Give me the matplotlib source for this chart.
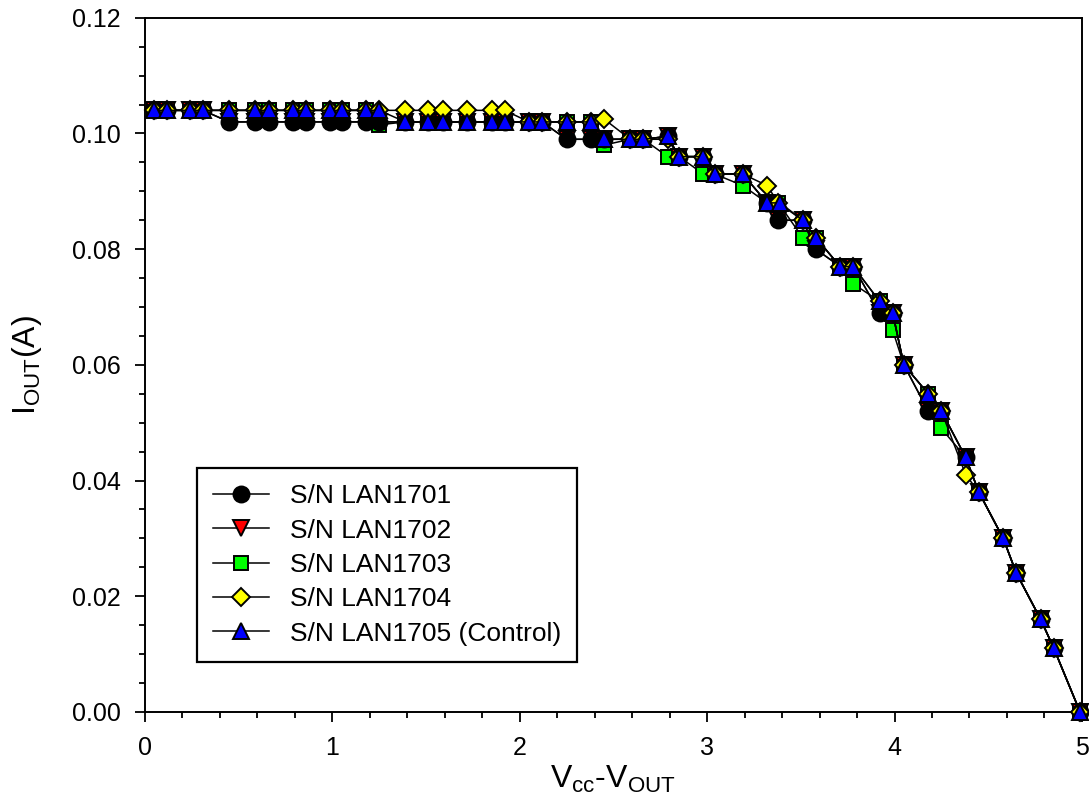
import matplotlib
matplotlib.use('Agg')
import matplotlib.pyplot as plt
from matplotlib.ticker import MultipleLocator, FormatStrFormatter

plt.rcParams['font.family'] = ['Liberation Sans', 'DejaVu Sans']
plt.rcParams['mathtext.fontset'] = 'custom'
plt.rcParams['mathtext.rm'] = 'Liberation Sans'
plt.rcParams['mathtext.it'] = 'Liberation Sans'

# Vcc - Vout (V) for each unit
x_1701 = [0.05, 0.12, 0.24, 0.31, 0.45, 0.59, 0.66, 0.79, 0.86, 0.99, 1.05, 1.18, 1.25,
          1.39, 1.51, 1.59, 1.72, 1.85, 1.92, 2.05, 2.12, 2.25, 2.38, 2.45, 2.59, 2.66,
          2.79, 2.85, 2.98, 3.04, 3.19, 3.32, 3.38, 3.51, 3.58, 3.71, 3.78, 3.92, 3.99,
          4.05, 4.18, 4.25, 4.38, 4.45, 4.58, 4.65, 4.78, 4.85, 4.99]
x_1702 = x_1701
x_1703 = x_1701
x_1704 = x_1701
x_1705 = [0.05, 0.12, 0.24, 0.31, 0.45, 0.59, 0.66, 0.79, 0.86, 0.99, 1.05, 1.18, 1.25,
          1.39, 1.51, 1.59, 1.72, 1.85, 1.92, 2.05, 2.12, 2.25, 2.38, 2.45, 2.59, 2.66,
          2.79, 2.85, 2.98, 3.04, 3.19, 3.32, 3.39, 3.51, 3.58, 3.71, 3.78, 3.92, 3.99,
          4.05, 4.18, 4.25, 4.38, 4.45, 4.58, 4.65, 4.78, 4.85, 4.99]

# Iout (A)
i_1701 = [0.104, 0.104, 0.104, 0.104, 0.102, 0.102, 0.102, 0.102, 0.102, 0.102, 0.102, 0.102, 0.102,
          0.102, 0.102, 0.102, 0.102, 0.102, 0.102, 0.102, 0.102, 0.099, 0.099, 0.099, 0.099, 0.099,
          0.0995, 0.096, 0.096, 0.093, 0.093, 0.088, 0.085, 0.085, 0.080, 0.077, 0.077, 0.069, 0.069,
          0.060, 0.052, 0.052, 0.044, 0.038, 0.030, 0.024, 0.016, 0.011, 0.000]
i_1702 = i_1701
i_1703 = [0.104, 0.104, 0.104, 0.104, 0.104, 0.104, 0.104, 0.104, 0.104, 0.104, 0.104, 0.104, 0.1015,
          0.102, 0.102, 0.102, 0.102, 0.102, 0.102, 0.102, 0.102, 0.102, 0.102, 0.098, 0.099, 0.099,
          0.096, 0.096, 0.093, 0.093, 0.091, 0.088, 0.088, 0.082, 0.082, 0.077, 0.074, 0.071, 0.066,
          0.060, 0.055, 0.049, 0.044, 0.038, 0.030, 0.024, 0.016, 0.011, 0.000]
i_1704 = [0.104, 0.104, 0.104, 0.104, 0.104, 0.104, 0.104, 0.104, 0.104, 0.104, 0.104, 0.104, 0.104,
          0.104, 0.104, 0.104, 0.104, 0.104, 0.104, 0.102, 0.102, 0.102, 0.102, 0.1025, 0.099, 0.099,
          0.099, 0.096, 0.096, 0.093, 0.093, 0.091, 0.088, 0.085, 0.082, 0.077, 0.077, 0.071, 0.069,
          0.060, 0.055, 0.052, 0.041, 0.038, 0.030, 0.024, 0.016, 0.011, 0.000]
i_1705 = [0.104, 0.104, 0.104, 0.104, 0.104, 0.104, 0.104, 0.104, 0.104, 0.104, 0.104, 0.104, 0.104,
          0.102, 0.102, 0.102, 0.102, 0.102, 0.102, 0.102, 0.102, 0.102, 0.102, 0.099, 0.099, 0.099,
          0.0995, 0.096, 0.096, 0.093, 0.093, 0.088, 0.088, 0.085, 0.082, 0.077, 0.077, 0.071, 0.069,
          0.060, 0.055, 0.052, 0.044, 0.038, 0.030, 0.024, 0.016, 0.011, 0.000]

labels = ['S/N LAN1701', 'S/N LAN1702', 'S/N LAN1703', 'S/N LAN1704', 'S/N LAN1705 (Control)']
markers = ['o', 'v', 's', 'D', '^']
colors = ['black', 'red', '#00ff00', 'yellow', 'blue']
msizes = [11.5, 11.5, 10.5, 9.5, 11.5]
zorders = [3, 2, 1, 5, 6]

xs = [x_1701, x_1702, x_1703, x_1704, x_1705]
ys = [i_1701, i_1702, i_1703, i_1704, i_1705]

fig = plt.figure(figsize=(10.89, 8.09), dpi=100)
ax = fig.add_axes([0.133, 0.12, 0.8605, 0.858])

for x, y, lab, m, c, ms, z in zip(xs, ys, labels, markers, colors, msizes, zorders):
    ax.plot(x, y, color='black', lw=1.1, marker=m, markersize=ms,
            markerfacecolor=c, markeredgecolor='black', markeredgewidth=1.4,
            label=lab, zorder=z, clip_on=False)

ax.set_xlim(0, 5)
ax.set_ylim(0, 0.12)
ax.xaxis.set_major_locator(MultipleLocator(1))
ax.xaxis.set_minor_locator(MultipleLocator(0.2))
ax.yaxis.set_major_locator(MultipleLocator(0.02))
ax.yaxis.set_minor_locator(MultipleLocator(0.005))
ax.yaxis.set_major_formatter(FormatStrFormatter('%.2f'))
ax.tick_params(which='major', direction='out', length=7.5, width=1.3, labelsize=18)
ax.tick_params(axis='x', which='major', pad=10)
ax.tick_params(axis='y', which='major', pad=10)
ax.tick_params(which='minor', direction='out', length=4, width=1.3)
for s in ax.spines.values():
    s.set_linewidth(1.4)

ax.set_xlabel(r'V$_{\mathrm{cc}}$-V$_{\mathrm{OUT}}$', fontsize=23, labelpad=3)
ax.set_ylabel(r'I$_{\mathrm{OUT}}$(A)', fontsize=23, labelpad=20)

leg = ax.legend(loc='lower left', bbox_to_anchor=(0.0555, 0.072), fontsize=19,
                frameon=True, fancybox=False, edgecolor='black', framealpha=1,
                handlelength=2.1, labelspacing=0.39, borderpad=0.62, handletextpad=0.8,
                borderaxespad=0)
leg.get_frame().set_linewidth(1.6)

fig.savefig('out.png', dpi=100)
